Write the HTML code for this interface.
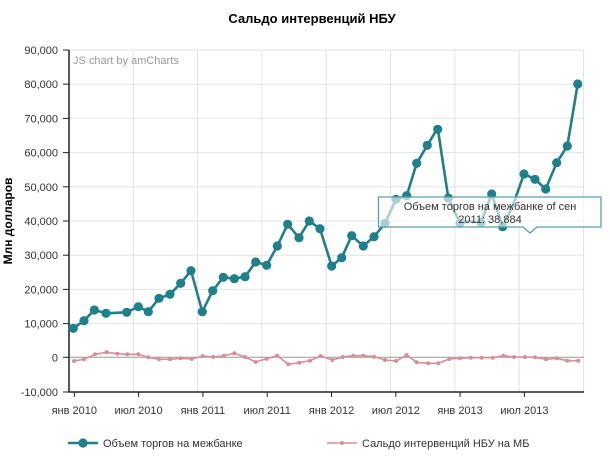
<!DOCTYPE html>
<html>
<head>
<meta charset="utf-8">
<style>
html,body{margin:0;padding:0;background:#fff;}
svg{display:block;}
text{font-family:"Liberation Sans",Arial,sans-serif;}
</style>
</head>
<body>
<svg width="610" height="466" viewBox="0 0 610 466" xmlns="http://www.w3.org/2000/svg">
<rect width="610" height="466" fill="#fff"/>
<!-- title -->
<text x="312" y="23" text-anchor="middle" font-size="13" font-weight="bold" fill="#000">Сальдо интервенций НБУ</text>
<!-- y axis title -->
<text transform="translate(12,221) rotate(-90)" text-anchor="middle" font-size="12" font-weight="bold" fill="#000">Млн долларов</text>

<!-- horizontal grid -->
<g stroke="#e2e2e2" stroke-width="1">
<line x1="69" y1="50" x2="584" y2="50"/>
<line x1="69" y1="84.2" x2="584" y2="84.2"/>
<line x1="69" y1="118.4" x2="584" y2="118.4"/>
<line x1="69" y1="152.6" x2="584" y2="152.6"/>
<line x1="69" y1="186.8" x2="584" y2="186.8"/>
<line x1="69" y1="221" x2="584" y2="221"/>
<line x1="69" y1="255.2" x2="584" y2="255.2"/>
<line x1="69" y1="289.4" x2="584" y2="289.4"/>
<line x1="69" y1="323.6" x2="584" y2="323.6"/>
<!-- vertical grid -->
<line x1="133.3" y1="50" x2="133.3" y2="392"/>
<line x1="197.6" y1="50" x2="197.6" y2="392"/>
<line x1="261.9" y1="50" x2="261.9" y2="392"/>
<line x1="326.2" y1="50" x2="326.2" y2="392"/>
<line x1="390.5" y1="50" x2="390.5" y2="392"/>
<line x1="454.8" y1="50" x2="454.8" y2="392"/>
<line x1="519.1" y1="50" x2="519.1" y2="392"/>
<line x1="583.6" y1="50" x2="583.6" y2="392"/>
</g>
<!-- zero line -->
<line x1="69" y1="357.3" x2="584" y2="357.3" stroke="#999" stroke-width="1"/>

<!-- axes -->
<line x1="69" y1="50" x2="69" y2="392.5" stroke="#222" stroke-width="1.5"/>
<line x1="68.5" y1="392" x2="584" y2="392" stroke="#222" stroke-width="1.5"/>
<g stroke="#222" stroke-width="1">
<line x1="63" y1="50" x2="69" y2="50"/>
<line x1="63" y1="84.2" x2="69" y2="84.2"/>
<line x1="63" y1="118.4" x2="69" y2="118.4"/>
<line x1="63" y1="152.6" x2="69" y2="152.6"/>
<line x1="63" y1="186.8" x2="69" y2="186.8"/>
<line x1="63" y1="221" x2="69" y2="221"/>
<line x1="63" y1="255.2" x2="69" y2="255.2"/>
<line x1="63" y1="289.4" x2="69" y2="289.4"/>
<line x1="63" y1="323.6" x2="69" y2="323.6"/>
<line x1="63" y1="357.3" x2="69" y2="357.3"/>
<line x1="63" y1="392" x2="69" y2="392"/>
<line x1="74.3" y1="392" x2="74.3" y2="397"/>
<line x1="138.6" y1="392" x2="138.6" y2="397"/>
<line x1="202.9" y1="392" x2="202.9" y2="397"/>
<line x1="267.2" y1="392" x2="267.2" y2="397"/>
<line x1="331.5" y1="392" x2="331.5" y2="397"/>
<line x1="395.8" y1="392" x2="395.8" y2="397"/>
<line x1="460.1" y1="392" x2="460.1" y2="397"/>
<line x1="524.4" y1="392" x2="524.4" y2="397"/>
</g>

<!-- y labels -->
<g font-size="11" fill="#333" text-anchor="end">
<text x="58" y="54">90,000</text>
<text x="58" y="88.2">80,000</text>
<text x="58" y="122.4">70,000</text>
<text x="58" y="156.6">60,000</text>
<text x="58" y="190.8">50,000</text>
<text x="58" y="225">40,000</text>
<text x="58" y="259.2">30,000</text>
<text x="58" y="293.4">20,000</text>
<text x="58" y="327.6">10,000</text>
<text x="58" y="361.3">0</text>
<text x="58" y="396">-10,000</text>
</g>
<!-- x labels -->
<g font-size="11" fill="#333" text-anchor="middle">
<text x="74.3" y="414">янв 2010</text>
<text x="138.6" y="414">июл 2010</text>
<text x="202.9" y="414">янв 2011</text>
<text x="267.2" y="414">июл 2011</text>
<text x="331.5" y="414">янв 2012</text>
<text x="395.8" y="414">июл 2012</text>
<text x="460.1" y="414">янв 2013</text>
<text x="524.4" y="414">июл 2013</text>
</g>

<text x="73" y="64" font-size="11" fill="#999">JS chart by amCharts</text>

<!-- pink series -->
<polyline fill="none" stroke="#d88e96" stroke-width="1.6" stroke-linejoin="round" points="74,361 84,359.3 95,354.3 106.7,352.3 117.3,353.7 127.3,354.3 138.3,354.3 148.3,357.3 159,359.3 170,359.3 180.7,358.3 191.7,359 202.7,356 213.3,357 224,355.7 234.3,353.3 245,357 255.7,362 266.7,358.7 277.3,355.7 288.3,364.3 299.3,362.7 310,360.7 320.7,356 332.3,360 342.7,357 353.3,355.7 363.3,355.7 374,356.7 385,360 396,361 406.7,355 416.7,362.3 428.3,363.3 438.3,363.3 449.3,359 460,358.3 470.7,357.7 481.7,357.7 492.7,357.7 503.3,355.7 514,357 525,357 535,357.3 546,359.3 556.7,358.3 567.3,360.7 578.3,360.7"/>
<g fill="#d88e96">
<circle cx="74" cy="361" r="2"/><circle cx="84" cy="359.3" r="2"/><circle cx="95" cy="354.3" r="2"/><circle cx="106.7" cy="352.3" r="2"/><circle cx="117.3" cy="353.7" r="2"/><circle cx="127.3" cy="354.3" r="2"/><circle cx="138.3" cy="354.3" r="2"/><circle cx="148.3" cy="357.3" r="2"/><circle cx="159" cy="359.3" r="2"/><circle cx="170" cy="359.3" r="2"/><circle cx="180.7" cy="358.3" r="2"/><circle cx="191.7" cy="359" r="2"/><circle cx="202.7" cy="356" r="2"/><circle cx="213.3" cy="357" r="2"/><circle cx="224" cy="355.7" r="2"/><circle cx="234.3" cy="353.3" r="2"/><circle cx="245" cy="357" r="2"/><circle cx="255.7" cy="362" r="2"/><circle cx="266.7" cy="358.7" r="2"/><circle cx="277.3" cy="355.7" r="2"/><circle cx="288.3" cy="364.3" r="2"/><circle cx="299.3" cy="362.7" r="2"/><circle cx="310" cy="360.7" r="2"/><circle cx="320.7" cy="356" r="2"/><circle cx="332.3" cy="360" r="2"/><circle cx="342.7" cy="357" r="2"/><circle cx="353.3" cy="355.7" r="2"/><circle cx="363.3" cy="355.7" r="2"/><circle cx="374" cy="356.7" r="2"/><circle cx="385" cy="360" r="2"/><circle cx="396" cy="361" r="2"/><circle cx="406.7" cy="355" r="2"/><circle cx="416.7" cy="362.3" r="2"/><circle cx="428.3" cy="363.3" r="2"/><circle cx="438.3" cy="363.3" r="2"/><circle cx="449.3" cy="359" r="2"/><circle cx="460" cy="358.3" r="2"/><circle cx="470.7" cy="357.7" r="2"/><circle cx="481.7" cy="357.7" r="2"/><circle cx="492.7" cy="357.7" r="2"/><circle cx="503.3" cy="355.7" r="2"/><circle cx="514" cy="357" r="2"/><circle cx="525" cy="357" r="2"/><circle cx="535" cy="357.3" r="2"/><circle cx="546" cy="359.3" r="2"/><circle cx="556.7" cy="358.3" r="2"/><circle cx="567.3" cy="360.7" r="2"/><circle cx="578.3" cy="360.7" r="2"/>
</g>

<!-- teal series -->
<polyline fill="none" stroke="#1f7f8b" stroke-width="2.6" stroke-linejoin="round" points="73.3,328.3 84,320.7 94.3,310 106,313.3 126.7,312.3 138.3,306.7 148.3,311.7 159,298.3 170,294.3 180.7,283.3 191,270.7 202.3,311.7 212.7,290.7 223.3,277.3 234.3,278.7 245,276.7 255.7,262 266.7,265.3 277.3,246 287.7,224.3 299,237.7 309.3,221 320,228.7 331.7,266 341.7,257.7 351.7,235.7 363.3,246 374,236.7 385,223.3 396,199.3 406.7,195.7 416.7,163.3 427.3,145.3 437.7,128 448.3,198 460,223.3 470.5,221 481,222.5 491.7,194 502.7,226.7 513,205 524,174 535,179.3 545.7,189 556.7,162.7 567.3,146 577.7,84"/>
<g fill="#1f7f8b">
<circle cx="73.3" cy="328.3" r="4.6"/><circle cx="84" cy="320.7" r="4.6"/><circle cx="94.3" cy="310" r="4.6"/><circle cx="106" cy="313.3" r="4.6"/><circle cx="126.7" cy="312.3" r="4.6"/><circle cx="138.3" cy="306.7" r="4.6"/><circle cx="148.3" cy="311.7" r="4.6"/><circle cx="159" cy="298.3" r="4.6"/><circle cx="170" cy="294.3" r="4.6"/><circle cx="180.7" cy="283.3" r="4.6"/><circle cx="191" cy="270.7" r="4.6"/><circle cx="202.3" cy="311.7" r="4.6"/><circle cx="212.7" cy="290.7" r="4.6"/><circle cx="223.3" cy="277.3" r="4.6"/><circle cx="234.3" cy="278.7" r="4.6"/><circle cx="245" cy="276.7" r="4.6"/><circle cx="255.7" cy="262" r="4.6"/><circle cx="266.7" cy="265.3" r="4.6"/><circle cx="277.3" cy="246" r="4.6"/><circle cx="287.7" cy="224.3" r="4.6"/><circle cx="299" cy="237.7" r="4.6"/><circle cx="309.3" cy="221" r="4.6"/><circle cx="320" cy="228.7" r="4.6"/><circle cx="331.7" cy="266" r="4.6"/><circle cx="341.7" cy="257.7" r="4.6"/><circle cx="351.7" cy="235.7" r="4.6"/><circle cx="363.3" cy="246" r="4.6"/><circle cx="374" cy="236.7" r="4.6"/><circle cx="385" cy="223.3" r="4.6"/><circle cx="396" cy="199.3" r="4.6"/><circle cx="406.7" cy="195.7" r="4.6"/><circle cx="416.7" cy="163.3" r="4.6"/><circle cx="427.3" cy="145.3" r="4.6"/><circle cx="437.7" cy="129.3" r="4.6"/><circle cx="448.3" cy="198" r="4.6"/><circle cx="460" cy="223.3" r="4.6"/><circle cx="481" cy="222.5" r="4.6"/><circle cx="491.7" cy="194" r="4.6"/><circle cx="502.7" cy="226.7" r="4.6"/><circle cx="524" cy="174" r="4.6"/><circle cx="535" cy="179.3" r="4.6"/><circle cx="545.7" cy="189" r="4.6"/><circle cx="556.7" cy="162.7" r="4.6"/><circle cx="567.3" cy="146" r="4.6"/><circle cx="577.7" cy="84" r="4.6"/>
</g>

<!-- balloon -->
<path d="M378.5,197 L601,197 L601,227 L537,227 L530,233 L523,227 L378.5,227 Z" fill="#ffffff" fill-opacity="0.62" stroke="#5d9ea6" stroke-width="1.3"/>
<text x="490" y="210" text-anchor="middle" font-size="11" fill="#333">Объем торгов на межбанке of сен</text>
<text x="490" y="223" text-anchor="middle" font-size="11" fill="#333">2011: 38,884</text>

<!-- legend -->
<line x1="68" y1="443" x2="98" y2="443" stroke="#1f7f8b" stroke-width="2.6"/>
<circle cx="83" cy="443" r="4.6" fill="#1f7f8b"/>
<text x="103" y="447" font-size="11" fill="#333">Объем торгов на межбанке</text>
<line x1="327" y1="443" x2="357" y2="443" stroke="#d88e96" stroke-width="1.6"/>
<circle cx="342" cy="443" r="2" fill="#d88e96"/>
<text x="362" y="447" font-size="11" fill="#333">Сальдо интервенций НБУ на МБ</text>
</svg>
</body>
</html>
